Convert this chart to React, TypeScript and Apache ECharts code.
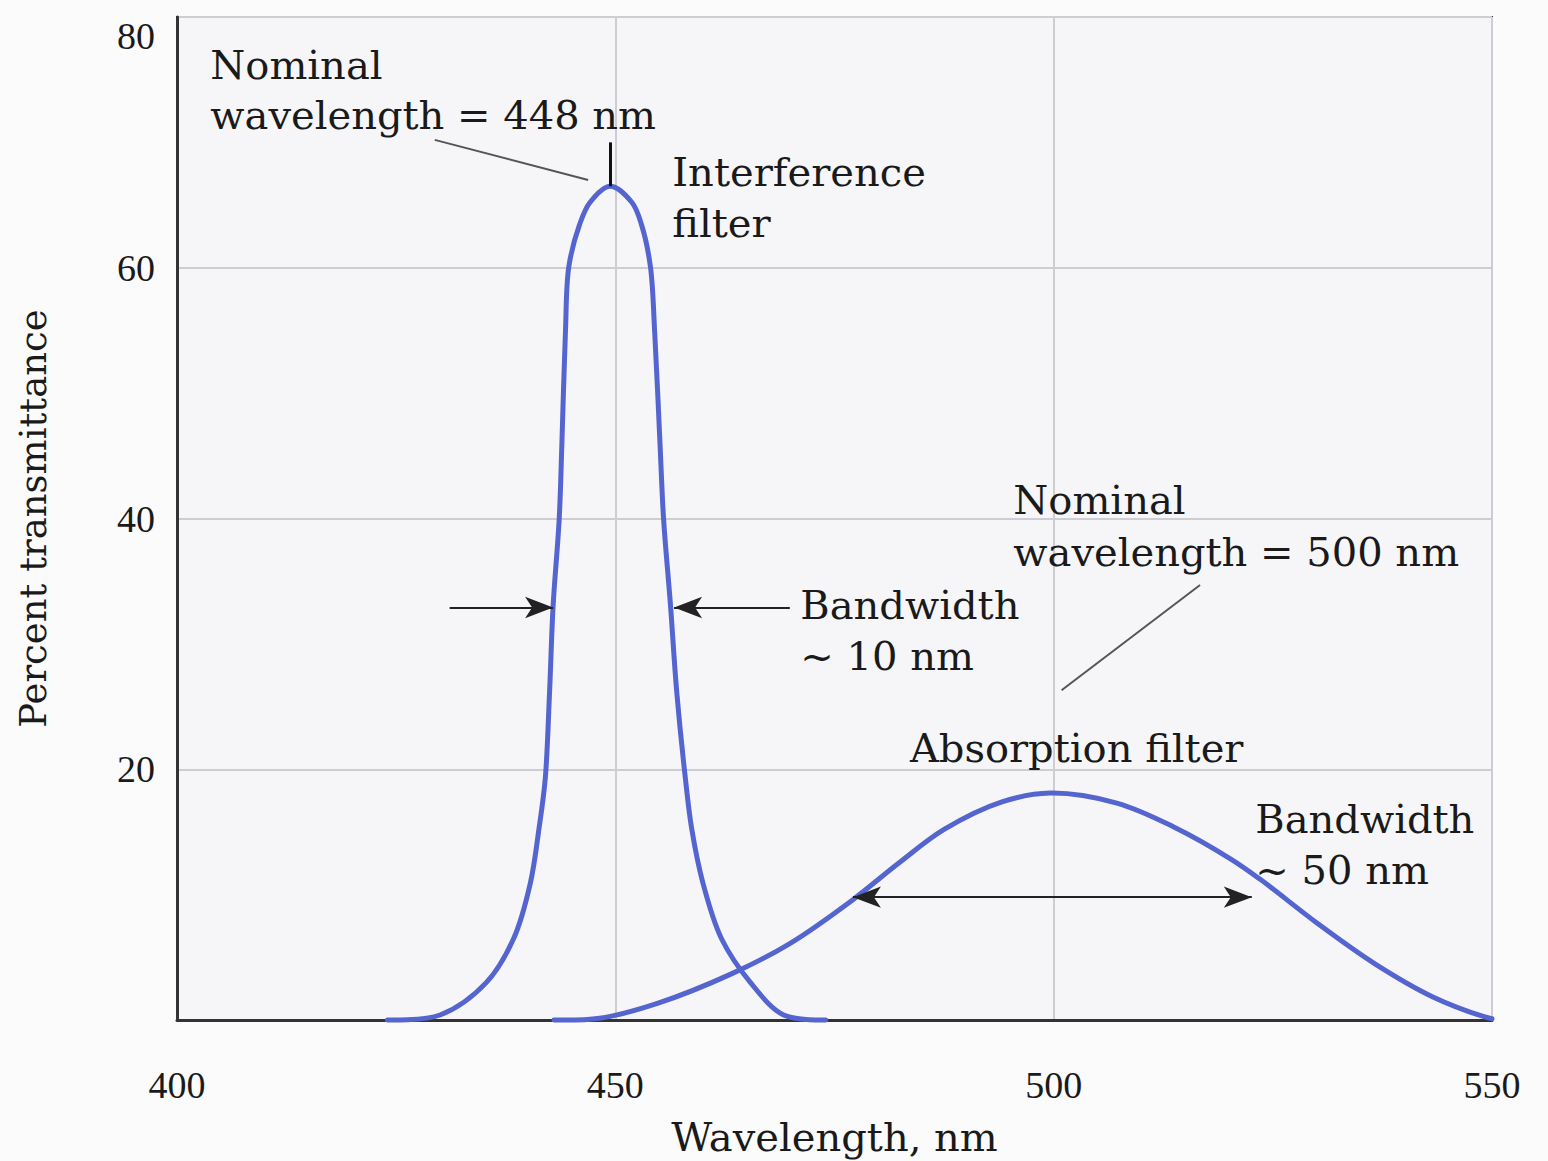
import React, { useEffect, useRef } from 'react';
import * as echarts from 'echarts';

const xTicks = [400, 450, 500, 550];
const yTicks = [0, 20, 40, 60, 80];

// Interference filter transmittance (nm, %)
const interfX = [424, 430.0, 435.3, 438.4, 440.3, 441.3, 442.0, 442.5, 442.9, 443.6, 443.9, 444.3, 444.7, 445.9, 447.1, 449.4, 451.9, 453.0, 454.0, 454.5, 455.1, 455.5, 456.3, 457.0, 458.0, 458.7, 460.0, 462.1, 465.4, 469.2, 474];
const interfY = [0, 0.4, 3.0, 6.5, 10.9, 15.3, 19.2, 26.2, 33.0, 40.0, 45.9, 54.7, 60.1, 63.4, 65.2, 66.5, 65.2, 63.4, 60.1, 54.7, 45.9, 40.0, 33.0, 26.2, 19.2, 15.3, 10.9, 6.5, 3.0, 0.4, 0];

// Absorption filter transmittance (nm, %)
const absX = [443, 448.2, 454.8, 463.3, 469.9, 477.1, 482.3, 487.5, 494.1, 499.6, 507.2, 513.7, 520.3, 523.6, 530.1, 536.6, 543.2, 549.1, 550];
const absY = [0, 0.14, 1.33, 3.7, 6.1, 9.6, 12.5, 15.2, 17.4, 18.1, 17.3, 15.4, 12.8, 11.2, 7.7, 4.5, 1.86, 0.26, 0.1];

// Annotation texts (data coordinates of left/middle anchor)
const annoTexts = ['Nominal', 'wavelength = 448 nm', 'Interference', 'filter', 'Bandwidth', '~ 10 nm', 'Nominal', 'wavelength = 500 nm', 'Absorption filter', 'Bandwidth', '~ 50 nm'];
const annoX = [403.8, 403.8, 456.5, 456.5, 471.1, 471.1, 495.4, 495.4, 483.6, 523.0, 523.0];
const annoY = [76.2, 72.2, 67.6, 63.6, 33.1, 29.0, 41.5, 37.3, 21.7, 16.0, 12.0];

// Arrows: [x1, y1, x2, y2, arrowStart, arrowEnd]
const arrowSegs: [number, number, number, number, boolean, boolean][] = [
  [431.1, 32.9, 442.9, 32.9, false, true],
  [469.9, 32.9, 456.7, 32.9, false, true],
  [477.1, 9.8, 522.6, 9.8, true, true],
];
// Leader lines: [x1, y1, x2, y2]
const leaderSegs: [number, number, number, number][] = [
  [429.4, 70.2, 446.9, 67.0],
  [500.9, 26.3, 516.7, 34.7],
];
const peakTick: [number, number, number, number] = [449.4, 70.0, 449.4, 66.5];

const BLUE = '#5565cf';
const SERIF = '"DejaVu Serif", serif';
const TIMES = '"Liberation Serif", serif';

// Centripetal Catmull-Rom path through pixel points
function crPath(pts: number[][]): string {
  const n = pts.length;
  const dist = (a: number[], b: number[]) => Math.hypot(b[0] - a[0], b[1] - a[1]);
  let p = `M${pts[0][0]},${pts[0][1]}`;
  for (let i = 0; i < n - 1; i++) {
    const P0 = pts[Math.max(i - 1, 0)];
    const P1 = pts[i];
    const P2 = pts[i + 1];
    const P3 = pts[Math.min(i + 2, n - 1)];
    const l1 = dist(P0, P1), l2 = dist(P1, P2), l3 = dist(P2, P3);
    const d1 = Math.sqrt(l1), d2 = Math.sqrt(l2), d3 = Math.sqrt(l3);
    let c1 = P1, c2 = P2;
    if (d1 > 1e-6) {
      const den = 3 * d1 * (d1 + d2);
      c1 = [0, 1].map((k) => (l1 * P2[k] - l2 * P0[k] + (2 * l1 + 3 * d1 * d2 + l2) * P1[k]) / den);
    }
    if (d3 > 1e-6) {
      const den = 3 * d3 * (d3 + d2);
      c2 = [0, 1].map((k) => (l3 * P1[k] - l2 * P3[k] + (2 * l3 + 3 * d3 * d2 + l2) * P2[k]) / den);
    }
    p += ` C${c1[0]},${c1[1]} ${c2[0]},${c2[1]} ${P2[0]},${P2[1]}`;
  }
  return p;
}

function curveRenderer(xs: number[], ys: number[]) {
  return (params: any, api: any) => {
    if (params.dataIndex !== 0) return null;
    const pts = xs.map((x, i) => api.coord([x, ys[i]]));
    return {
      type: 'path',
      shape: { pathData: crPath(pts) },
      style: { stroke: BLUE, lineWidth: 5, fill: 'none', lineJoin: 'round', lineCap: 'round' },
      silent: true,
    };
  };
}

export default function App() {
  const ref = useRef<HTMLDivElement>(null);
  useEffect(() => {
    const chart = echarts.init(ref.current!, null, { renderer: 'svg' });
    const arrowData = arrowSegs.map(([x1, y1, x2, y2, a1, a2]) => [
      { coord: [x1, y1], symbol: a1 ? 'arrow' : 'none', symbolSize: [16, 28] },
      { coord: [x2, y2], symbol: a2 ? 'arrow' : 'none', symbolSize: [16, 28] },
    ]);
    const leaderData: any[] = leaderSegs.map(([x1, y1, x2, y2]) => [
      { coord: [x1, y1], symbol: 'none', lineStyle: { color: '#555', width: 2 } },
      { coord: [x2, y2], symbol: 'none' },
    ]);
    leaderData.push([
      { coord: [peakTick[0], peakTick[1]], symbol: 'none', lineStyle: { color: '#111', width: 3 } },
      { coord: [peakTick[2], peakTick[3]], symbol: 'none' },
    ]);
    const option: any = {
      animation: false,
      backgroundColor: '#fbfbfb',
      grid: {
        left: 177, right: 56, top: 17, bottom: 141,
        containLabel: false, outerBoundsMode: 'none',
        show: true, backgroundColor: '#f6f6f8', borderColor: '#3a3a3a', borderWidth: 2,
      },
      xAxis: {
        type: 'value', min: xTicks[0], max: xTicks[xTicks.length - 1], interval: 50,
        name: 'Wavelength, nm', nameLocation: 'middle', nameGap: 97,
        nameTextStyle: { fontFamily: SERIF, fontSize: 40, color: '#1a1a1a' },
        axisLine: { show: true, lineStyle: { color: '#333', width: 3 } },
        axisTick: { show: false },
        axisLabel: { fontFamily: TIMES, fontSize: 38, color: '#1a1a1a', margin: 46 },
        splitLine: { show: true, lineStyle: { color: '#cdcdd2', width: 2 } },
      },
      yAxis: {
        type: 'value', min: yTicks[0], max: yTicks[yTicks.length - 1], interval: 20,
        name: 'Percent transmittance', nameLocation: 'middle', nameGap: 125, nameRotate: 90,
        nameTextStyle: { fontFamily: SERIF, fontSize: 37, color: '#1a1a1a' },
        axisLine: { show: true, lineStyle: { color: '#333', width: 3 } },
        axisTick: { show: false },
        axisLabel: {
          fontFamily: TIMES, fontSize: 38, color: '#1a1a1a', margin: 22,
          verticalAlignMaxLabel: 'top',
          formatter: (v: number) => (v === 0 ? '' : String(v)),
        },
        splitLine: { show: true, lineStyle: { color: '#cdcdd2', width: 2 } },
      },
      series: [
        {
          type: 'custom', name: 'Interference filter',
          data: interfX.map((x, i) => [x, interfY[i]]),
          encode: { x: 0, y: 1 },
          renderItem: curveRenderer(interfX, interfY),
          z: 3,
          markLine: {
            silent: true, animation: false,
            label: { show: false },
            lineStyle: { color: '#222', width: 2, type: 'solid' },
            data: arrowData,
          },
        },
        {
          type: 'custom', name: 'Absorption filter',
          data: absX.map((x, i) => [x, absY[i]]),
          encode: { x: 0, y: 1 },
          renderItem: curveRenderer(absX, absY),
          z: 3,
          markLine: {
            silent: true, animation: false,
            label: { show: false },
            lineStyle: { color: '#555', width: 2, type: 'solid' },
            data: leaderData,
          },
        },
      ],
    };
    chart.setOption(option);
    const graphics = annoTexts.map((t, i) => {
      const [px, py] = chart.convertToPixel({ gridIndex: 0 }, [annoX[i], annoY[i]]) as number[];
      return {
        type: 'text', x: px, y: py, z: 10,
        style: {
          text: t, fontFamily: SERIF, fontSize: 40, fill: '#1a1a1a',
          align: 'left', verticalAlign: 'middle',
        },
      };
    });
    chart.setOption({ graphic: graphics });
    return () => chart.dispose();
  }, []);
  return (
    <div
      ref={ref}
      style={{ position: 'absolute', left: 0, top: 0, width: 1548, height: 1161 }}
    />
  );
}
